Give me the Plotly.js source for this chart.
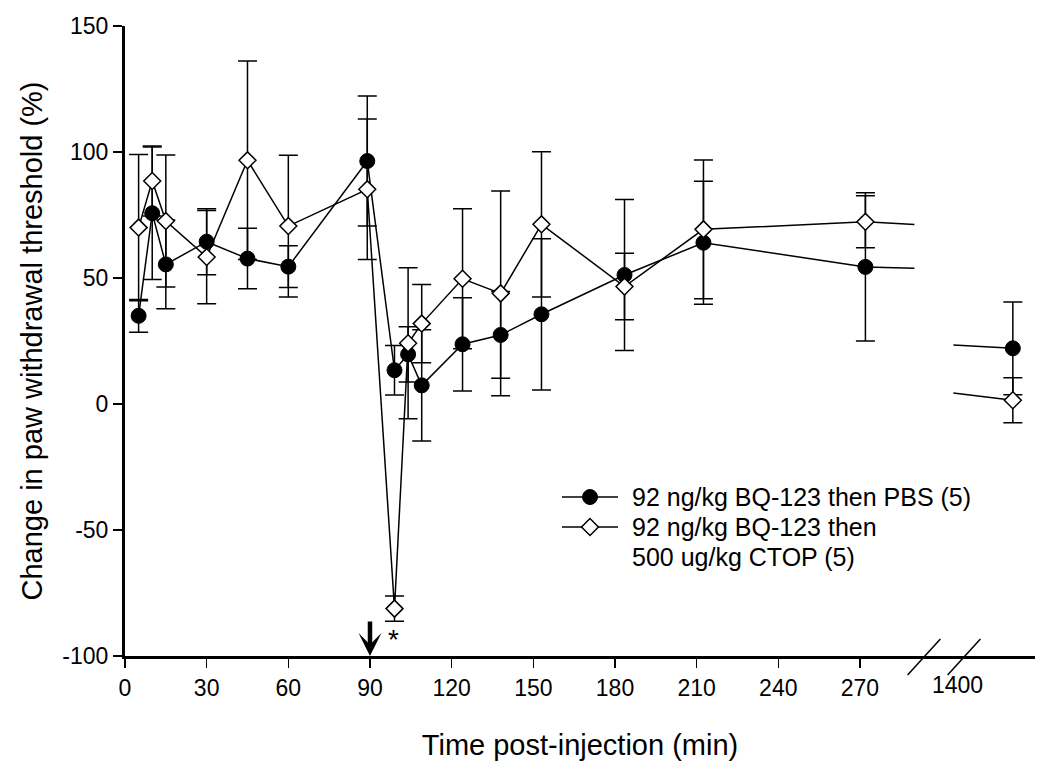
<!DOCTYPE html>
<html>
<head>
<meta charset="utf-8">
<script src="https://cdn.plot.ly/plotly-3.0.1.min.js"></script>
<style>html,body{margin:0;padding:0;background:#fff;}#chart{width:1050px;height:770px;}</style>
</head>
<body>
<div id="chart"></div>
<script>
// ---- data ----
const times = [5, 10, 15, 30, 45, 60, 89, 99, 104, 109, 124, 138, 153, 183.5, 212.5, 272];
const lateTime = 1440;

const pbsMean = [35, 75.7, 55.4, 64.4, 57.7, 54.5, 96.4, 13.4, 19.7, 7.4, 23.7, 27.4, 35.6, 51.2, 64, 54.4];
const pbsErr  = [6.5, 26.3, 17.6, 13.1, 12, 8.3, 25.8, 9.8, 11, 22.1, 18.5, 17.2, 30, 30, 24.4, 29.4];
const pbsLateMean = 22.1;
const pbsLateErr = 18.4;

const ctopMean = [70, 88.5, 72.6, 58.3, 96.7, 70.6, 85.2, -81.2, 24.1, 31.9, 49.7, 43.9, 71.3, 46.6, 69.3, 72.3];
const ctopErr  = [29, 13.9, 26.2, 18.5, 39.4, 28.1, 27.9, 5, 30, 15.5, 27.8, 40.6, 28.8, 13.2, 27.5, 10.3];
const ctopLateMean = 1.5;
const ctopLateErr = 8.9;

const xTickVals = [0, 30, 60, 90, 120, 150, 180, 210, 240, 270];
const xTickText = ['0', '30', '60', '90', '120', '150', '180', '210', '240', '270'];
const lateTickValue = 1400;
const yTickVals = [-100, -50, 0, 50, 100, 150];
const yTickText = ['-100', '-50', '0', '50', '100', '150'];

const legendLines = [['92 ng/kg BQ-123 then PBS (5)'], ['92 ng/kg BQ-123 then', '500 ug/kg CTOP (5)']];

// ---- broken x axis: times after the break are placed on a compressed scale ----
const breakStart = 290;      // last visible minute before the break
const lateAnchor = 307.8;    // axis position of the "1400" label
const lateScale = 0.459;     // axis units per minute after the break
const lateResume = 1392.4;   // first visible minute after the break
function xpos(t) { return t <= 300 ? t : lateAnchor + (t - lateTickValue) * lateScale; }

function interp(t0, v0, t1, v1, t) { return v0 + (v1 - v0) * (t - t0) / (t1 - t0); }

const FONT = 'Arial, "Liberation Sans", sans-serif';
const ink = '#000';

// plot area in pixels (used by the pixel-based overlay axes for the key)
const W = 1050, H = 770, M = {l: 125, r: 15, t: 26, b: 114};

function breakSegments(mean, lateMean) {
  const tl = times[times.length - 1], vl = mean[mean.length - 1];
  return [
    {x: [xpos(tl), xpos(breakStart)], y: [vl, interp(tl, vl, lateTime, lateMean, breakStart)]},
    {x: [xpos(lateResume), xpos(lateTime)], y: [interp(tl, vl, lateTime, lateMean, lateResume), lateMean]}
  ];
}

const traces = [];
[[pbsMean, pbsLateMean], [ctopMean, ctopLateMean]].forEach(([m, lm]) => {
  breakSegments(m, lm).forEach(seg => {
    traces.push({x: seg.x, y: seg.y, mode: 'lines', line: {color: ink, width: 1.5},
                 showlegend: false, hoverinfo: 'skip', cliponaxis: false});
  });
});

function errBars(arr) {
  return {type: 'data', visible: true, array: arr, color: ink, thickness: 1.5, width: 9.5};
}

const circleMarker = {symbol: 'circle', size: 15, color: ink, line: {color: ink, width: 1}};
const diamondMarker = {symbol: 'diamond', size: 13, color: '#fff', line: {color: ink, width: 1.5}};

traces.push({
  x: times.map(xpos), y: pbsMean, name: legendLines[0].join(' '), mode: 'lines+markers',
  line: {color: ink, width: 1.5}, marker: circleMarker, showlegend: false,
  error_y: errBars(pbsErr), cliponaxis: false
});
traces.push({
  x: [xpos(lateTime)], y: [pbsLateMean], mode: 'markers', showlegend: false,
  marker: circleMarker, error_y: errBars([pbsLateErr]), cliponaxis: false
});
traces.push({
  x: times.map(xpos), y: ctopMean, name: legendLines[1].join(' '), mode: 'lines+markers',
  line: {color: ink, width: 1.5}, marker: diamondMarker, showlegend: false,
  error_y: errBars(ctopErr), cliponaxis: false
});
traces.push({
  x: [xpos(lateTime)], y: [ctopLateMean], mode: 'markers', showlegend: false,
  marker: diamondMarker, error_y: errBars([ctopLateErr]), cliponaxis: false
});

// ---- key (drawn on pixel-scaled overlay axes) ----
const keyX0 = 562, keyX1 = 618, keyTextX = 630;
const keyRowY = [497, 527, 557];
const keyMarkers = [circleMarker, diamondMarker];
const annotations = [];
let row = 0;
legendLines.forEach((lines, i) => {
  const yy = keyRowY[row];
  traces.push({x: [keyX0, keyX1], y: [yy, yy], xaxis: 'x2', yaxis: 'y2', mode: 'lines',
               line: {color: ink, width: 1.5}, showlegend: false, hoverinfo: 'skip', cliponaxis: false});
  traces.push({x: [(keyX0 + keyX1) / 2], y: [yy], xaxis: 'x2', yaxis: 'y2', mode: 'markers',
               marker: keyMarkers[i], showlegend: false, hoverinfo: 'skip', cliponaxis: false});
  lines.forEach(txt => {
    annotations.push({x: keyTextX, y: keyRowY[row], xref: 'x2', yref: 'y2', xanchor: 'left', yanchor: 'middle',
                      text: txt, showarrow: false, font: {family: FONT, size: 25, color: ink}});
    row++;
  });
});

annotations.push(
  {x: xpos(lateTickValue), y: 0, xref: 'x', yref: 'paper', yanchor: 'top', yshift: -14, xshift: -5,
   text: String(lateTickValue), showarrow: false, font: {family: FONT, size: 23, color: ink}},
  {x: 90, y: -100, xref: 'x', yref: 'y', ax: 0, ay: -36, axref: 'pixel', ayref: 'pixel',
   showarrow: true, arrowhead: 3, arrowwidth: 4.5, arrowsize: 0.85, arrowcolor: ink, text: '', standoff: 0},
  {x: 98.5, y: -93.5, xref: 'x', yref: 'y', text: '*', showarrow: false,
   font: {family: FONT, size: 28, color: ink}}
);

const layout = {
  width: W, height: H,
  margin: M,
  paper_bgcolor: '#fff', plot_bgcolor: '#fff',
  font: {family: FONT, size: 22, color: ink},
  showlegend: false,
  xaxis: {
    range: [0, 334.3], showgrid: false, zeroline: false,
    showline: true, linecolor: ink, linewidth: 3,
    ticks: 'outside', ticklen: 9, tickwidth: 1.5, tickcolor: ink,
    tickvals: xTickVals, ticktext: xTickText,
    tickfont: {family: FONT, size: 23, color: ink},
    title: {text: 'Time post-injection (min)', font: {family: FONT, size: 29, color: ink}, standoff: 36},
    fixedrange: true
  },
  yaxis: {
    range: [-100, 150], showgrid: false, zeroline: false,
    showline: true, linecolor: ink, linewidth: 3,
    ticks: 'outside', ticklen: 9, tickwidth: 1.5, tickcolor: ink,
    tickvals: yTickVals, ticktext: yTickText,
    tickfont: {family: FONT, size: 23, color: ink},
    title: {text: 'Change in paw withdrawal threshold (%)', font: {family: FONT, size: 29, color: ink}, standoff: 12},
    fixedrange: true
  },
  xaxis2: {overlaying: 'x', anchor: 'y2', range: [M.l, W - M.r], visible: false, fixedrange: true},
  yaxis2: {overlaying: 'y', anchor: 'x2', range: [H - M.b, M.t], visible: false, fixedrange: true},
  annotations: annotations,
  shapes: [
    {type: 'line', xref: 'paper', yref: 'paper', x0: 0.860, y0: -0.03, x1: 0.896, y1: 0.027, line: {color: ink, width: 1.5}},
    {type: 'line', xref: 'paper', yref: 'paper', x0: 0.904, y0: -0.03, x1: 0.940, y1: 0.027, line: {color: ink, width: 1.5}}
  ]
};

Plotly.newPlot('chart', traces, layout, {displayModeBar: false, staticPlot: true});
</script>
</body>
</html>
